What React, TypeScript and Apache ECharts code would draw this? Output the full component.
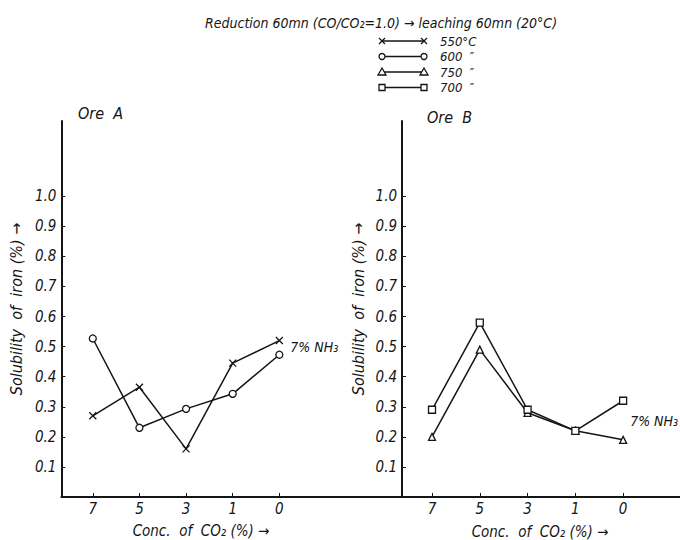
import React, { useEffect, useRef } from "react";
import * as echarts from "echarts";

const categories = ["7", "5", "3", "1", "0"];
const yTickValues = [0.1, 0.2, 0.3, 0.4, 0.5, 0.6, 0.7, 0.8, 0.9, 1.0];
const oreA550 = [0.27, 0.365, 0.16, 0.445, 0.52];
const oreA600 = [0.527, 0.23, 0.293, 0.343, 0.473];
const oreB700 = [0.29, 0.58, 0.29, 0.22, 0.32];
const oreB750 = [0.2, 0.49, 0.28, 0.22, 0.19];
const legendNames = ["550°C", "600  ″", "750  ″", "700  ″"];
const titleText = "Reduction 60mn (CO/CO₂=1.0) → leaching 60mn (20°C)";
const xName = "Conc.  of  CO₂ (%) →";
const yName = "Solubility  of  iron (%) →";
const noteText = "7% NH₃";

const FONT = '"DejaVu Sans Condensed", "DejaVu Sans", sans-serif';
const INK = "#151515";

const toPairs = (vals: number[]) => vals.map((v, i) => [i, v]);

export default function App() {
  const ref = useRef<HTMLDivElement>(null);
  useEffect(() => {
    document.body.style.margin = "0";
    const chart = echarts.init(ref.current!, null, { renderer: "svg" });
    const idx = categories.map((_, i) => i);
    const xAxisBase = (min: number, max: number, gridIndex: number) => ({
      type: "value",
      gridIndex,
      min,
      max,
      axisLine: { show: true, onZero: false, lineStyle: { color: INK, width: 2 } },
      axisTick: { show: true, inside: true, length: 4, customValues: idx, lineStyle: { color: INK, width: 1 } },
      axisLabel: {
        customValues: idx,
        formatter: (v: number) => categories[Math.round(v)] ?? "",
        color: INK,
        fontFamily: FONT,
        fontStyle: "italic",
        fontSize: 15,
        margin: 4,
      },
      splitLine: { show: false },
    });
    const yAxisBase = (gridIndex: number, gap: number) => ({
      type: "value",
      gridIndex,
      min: 0,
      max: 1.25,
      name: yName,
      nameLocation: "middle",
      nameRotate: 90,
      nameGap: gap,
      nameTextStyle: { color: INK, fontFamily: FONT, fontStyle: "italic", fontSize: 16 },
      axisLine: { show: true, onZero: false, lineStyle: { color: INK, width: 2 } },
      axisTick: { show: true, inside: true, length: 4, customValues: yTickValues, lineStyle: { color: INK, width: 1 } },
      axisLabel: {
        customValues: yTickValues,
        formatter: (v: number) => v.toFixed(1),
        color: INK,
        fontFamily: FONT,
        fontStyle: "italic",
        fontSize: 15,
        margin: 5,
      },
      splitLine: { show: false },
    });
    const lineSeries = (name: string, data: number[], gi: number, symbol: string, size: number, extra: any = {}) => ({
      type: "line",
      name,
      xAxisIndex: gi,
      yAxisIndex: gi,
      data: toPairs(data),
      symbol,
      symbolSize: size,
      lineStyle: { color: INK, width: 1.5 },
      itemStyle: { color: "#fff", borderColor: INK, borderWidth: 1.3 },
      ...extra,
    });
    const endNote = (offset: number[]) => ({
      show: true,
      formatter: noteText,
      color: INK,
      fontFamily: FONT,
      fontStyle: "italic",
      fontSize: 14,
      offset,
    });

    // legend drawing
    const legendRowsY = [41, 56.5, 72, 87.5];
    const lx1 = 382;
    const lx2 = 424;
    const markers: any[] = [];
    const markerAt = (kind: number, x: number, y: number) => {
      const st = { fill: "#fff", stroke: INK, lineWidth: 1.3 };
      if (kind === 0) {
        markers.push({ type: "line", shape: { x1: x - 3, y1: y - 3, x2: x + 3, y2: y + 3 }, style: { stroke: INK, lineWidth: 1.2 } });
        markers.push({ type: "line", shape: { x1: x + 3, y1: y - 3, x2: x - 3, y2: y + 3 }, style: { stroke: INK, lineWidth: 1.2 } });
      } else if (kind === 1) {
        markers.push({ type: "circle", shape: { cx: x, cy: y, r: 3 }, style: st });
      } else if (kind === 2) {
        markers.push({ type: "polygon", shape: { points: [[x, y - 4], [x + 4, y + 3], [x - 4, y + 3]] }, style: st });
      } else {
        markers.push({ type: "rect", shape: { x: x - 3, y: y - 3, width: 6, height: 6 }, style: st });
      }
    };
    legendNames.forEach((nm, i) => {
      const y = legendRowsY[i];
      markers.push({ type: "line", shape: { x1: lx1, y1: y, x2: lx2, y2: y }, style: { stroke: INK, lineWidth: 1.4 } });
      markerAt(i, lx1, y);
      markerAt(i, lx2, y);
      markers.push({
        type: "text",
        x: 440,
        y,
        style: { text: nm, fill: INK, font: `italic 13px ${FONT}`, lineHeight: 13, verticalAlign: "middle", align: "left" },
      });
    });

    chart.setOption({
      animation: false,
      backgroundColor: "#fff",
      title: {
        text: titleText,
        left: 200,
        top: 11,
        textStyle: { color: INK, fontFamily: FONT, fontStyle: "italic", fontWeight: "normal", fontSize: 14 },
      },
      grid: [
        { left: 55, top: 121, width: 347, height: 376 },
        { left: 402, top: 121, width: 278, height: 376 },
      ],
      xAxis: [xAxisBase(-0.674, 6.63, 0), xAxisBase(-0.628, 5.19, 1)],
      yAxis: [yAxisBase(0, 33), yAxisBase(1, 36)],
      series: [
        lineSeries("550°C", oreA550, 0, "path://M0,0L10,10M10,0L0,10", 7, {
          itemStyle: { color: INK, borderColor: INK, borderWidth: 1.3 },
          endLabel: endNote([3, 6]),
        }),
        lineSeries("600", oreA600, 0, "circle", 7),
        lineSeries("750", oreB750, 1, "triangle", 7),
        lineSeries("700", oreB700, 1, "rect", 7, { endLabel: endNote([-1, 20]) }),
      ],
      graphic: [
        ...markers,
        { type: "text", x: 78, y: 113, style: { text: "Ore  A", fill: INK, font: `italic 16px ${FONT}`, verticalAlign: "middle" } },
        { type: "text", x: 427, y: 117, style: { text: "Ore  B", fill: INK, font: `italic 16px ${FONT}`, verticalAlign: "middle" } },
        { type: "text", x: 201, y: 531, style: { text: xName, fill: INK, font: `italic 15px ${FONT}`, verticalAlign: "middle", align: "center" } },
        { type: "text", x: 540, y: 532, style: { text: xName, fill: INK, font: `italic 15px ${FONT}`, verticalAlign: "middle", align: "center" } },
      ],
    });
    return () => chart.dispose();
  }, []);
  return <div ref={ref} style={{ width: 680, height: 540 }} />;
}
